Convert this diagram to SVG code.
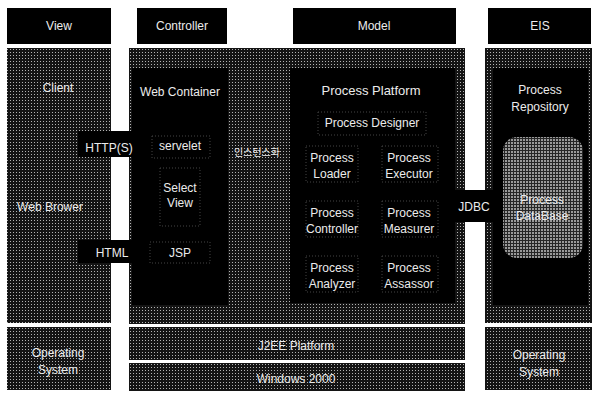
<svg xmlns="http://www.w3.org/2000/svg" width="598" height="394" viewBox="0 0 598 394">
<defs>
<pattern id="ht" width="3" height="3" patternUnits="userSpaceOnUse">
<rect width="3" height="3" fill="#141414"/>
<rect x="1" y="1" width="1" height="1" fill="#b4b4b4"/>
</pattern>
<pattern id="htl" width="3" height="3" patternUnits="userSpaceOnUse">
<rect width="3" height="3" fill="#262626"/>
<rect x="1" y="1" width="2" height="2" fill="#9a9a9a"/>
</pattern>
<style>
.hd{fill:#000}
.ht{fill:url(#ht)}
.blk{fill:#000}
.db{fill:url(#htl)}
.dot{fill:none;stroke:#444;stroke-width:1;stroke-dasharray:1 2}
text{font-family:"Liberation Sans","DejaVu Sans",sans-serif;font-size:12px;fill:#ececec;text-anchor:middle}
.ko{font-family:"Liberation Sans","Noto Sans CJK KR",sans-serif;font-size:10px}
.big{font-size:13px}
</style>
</defs>
<rect width="598" height="394" fill="#fff"/>

<g id="hdr-view"><rect class="hd" x="7" y="8" width="104" height="36"/><text x="59" y="30">View</text></g>
<g id="hdr-controller"><rect class="hd" x="137" y="8" width="90" height="36"/><text x="182" y="30">Controller</text></g>
<g id="hdr-model"><rect class="hd" x="293" y="8" width="163" height="36"/><text x="374" y="30">Model</text></g>
<g id="hdr-eis"><rect class="hd" x="488" y="8" width="103" height="36"/><text x="540" y="30">EIS</text></g>

<g id="client">
<rect class="ht" x="7" y="48" width="104" height="275"/>
<text x="58" y="92">Client</text>
<text x="50" y="211">Web Brower</text>
</g>
<g id="os-left">
<rect class="ht" x="7" y="327" width="104" height="63"/>
<text x="58" y="357">Operating</text>
<text x="58" y="374">System</text>
</g>

<g id="app-server">
<rect class="ht" x="129" y="48" width="336" height="276"/>
</g>

<g id="web-container">
<rect class="blk" x="132" y="68" width="96" height="237"/>
<text x="180" y="96">Web Container</text>
</g>
<g id="servelet"><rect class="dot" x="152" y="136" width="58" height="22"/><text x="180" y="150">servelet</text></g>
<g id="select-view"><rect class="dot" x="160" y="168" width="40" height="58"/><text x="180" y="192">Select</text><text x="180" y="207">View</text></g>
<g id="jsp"><rect class="dot" x="150" y="242" width="60" height="21"/><text x="180" y="257">JSP</text></g>

<g id="instantiate"><text class="ko" x="257" y="156">인스턴스화</text></g>

<g id="process-platform">
<rect class="blk" x="290" y="68" width="165" height="235"/>
<text class="big" x="371" y="95">Process Platform</text>
</g>
<g id="process-designer"><rect class="dot" x="318" y="112" width="108" height="23"/><text x="372" y="127">Process Designer</text></g>
<g id="process-loader"><rect class="dot" x="306" y="146" width="52" height="36"/><text x="332" y="162">Process</text><text x="332" y="178">Loader</text></g>
<g id="process-executor"><rect class="dot" x="382" y="146" width="56" height="36"/><text x="409" y="162">Process</text><text x="409" y="178">Executor</text></g>
<g id="process-controller"><rect class="dot" x="306" y="201" width="52" height="36"/><text x="332" y="217">Process</text><text x="332" y="233">Controller</text></g>
<g id="process-measurer"><rect class="dot" x="382" y="201" width="56" height="36"/><text x="409" y="217">Process</text><text x="409" y="233">Measurer</text></g>
<g id="process-analyzer"><rect class="dot" x="306" y="256" width="52" height="36"/><text x="332" y="272">Process</text><text x="332" y="288">Analyzer</text></g>
<g id="process-assassor"><rect class="dot" x="382" y="256" width="56" height="36"/><text x="409" y="272">Process</text><text x="409" y="288">Assassor</text></g>

<g id="j2ee">
<rect class="ht" x="129" y="327" width="336" height="33"/>
<text x="296" y="350">J2EE Platform</text>
</g>
<g id="windows">
<rect class="ht" x="129" y="363" width="336" height="28"/>
<text x="296" y="383">Windows 2000</text>
</g>

<g id="eis">
<rect class="ht" x="485" y="48" width="107" height="275"/>
<rect class="blk" x="493" y="68" width="95" height="237"/>
<text x="540" y="94">Process</text>
<text x="540" y="111">Repository</text>
</g>
<g id="process-database">
<rect class="db" x="503" y="137" width="80" height="121" rx="14" ry="14"/>
<text x="542" y="204">Process</text>
<text x="542" y="220">DataBase</text>
</g>
<g id="os-right">
<rect class="ht" x="485" y="327" width="107" height="63"/>
<text x="539" y="359">Operating</text>
<text x="539" y="376">System</text>
</g>

<g id="connectors">
<g id="http"><rect class="blk" x="78" y="131" width="56" height="26"/><text x="109" y="152">HTTP(S)</text></g>
<g id="html"><rect class="blk" x="78" y="240" width="56" height="23"/><text x="112" y="257">HTML</text></g>
<g id="jdbc"><rect class="blk" x="455" y="190" width="38" height="32"/><text x="474" y="211">JDBC</text></g>
</g>
</svg>
